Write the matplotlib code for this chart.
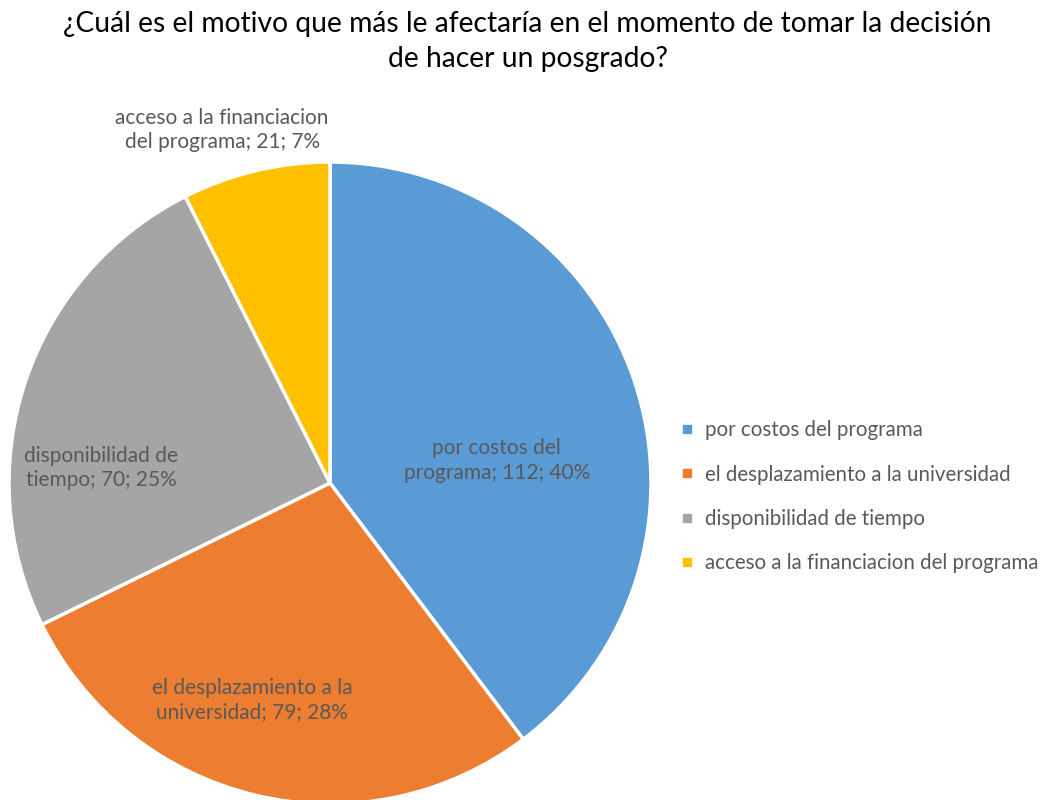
import matplotlib.pyplot as plt
from matplotlib.lines import Line2D

plt.rcParams['font.family'] = ['Lato', 'DejaVu Sans']

categories = ['por costos del programa', 'el desplazamiento a la universidad',
              'disponibilidad de tiempo', 'acceso a la financiacion del programa']
counts = [112, 79, 70, 21]
percents = [40, 28, 25, 7]
colors = ['#5B9BD5', '#ED7D31', '#A5A5A5', '#FFC000']

# label text broken the way the data labels wrap
label_lines = [('por costos del', 'programa'),
               ('el desplazamiento a la', 'universidad'),
               ('disponibilidad de', 'tiempo'),
               ('acceso a la financiacion', 'del programa')]
label_pos = [(0.52, 0.07), (-0.243, -0.676), (-0.713, 0.047), (-0.336, 1.10)]

fig = plt.figure(figsize=(10.55, 8), dpi=100)
W, H = 1055, 800
cx, cy, r = 330, 483, 321
ax = fig.add_axes([(cx - r) / W, (H - cy - r) / H, 2 * r / W, 2 * r / H])

wedges, _ = ax.pie(counts, colors=colors, startangle=90, counterclock=False,
                   radius=1, wedgeprops=dict(edgecolor='white', linewidth=2.5))
ax.set_xlim(-1, 1)
ax.set_ylim(-1, 1)
ax.set_aspect('equal')
ax.axis('off')

for lines, n, p, (x, y) in zip(label_lines, counts, percents, label_pos):
    txt = f'{lines[0]}\n{lines[1]}; {n}; {p}%'
    ax.text(x, y, txt, ha='center', va='center', fontsize=15,
            color='#595959', linespacing=1.3)

fig.text(0.5, 0.948, '¿Cuál es el motivo que más le afectaría en el momento de tomar la decisión\nde hacer un posgrado?',
         ha='center', va='center', fontsize=20.3, color='black', linespacing=1.42)

handles = [Line2D([0], [0], marker='s', linestyle='none', markersize=6,
                  markerfacecolor=c, markeredgecolor=c) for c in colors]
fig.legend(handles, categories, loc='center left', bbox_to_anchor=(0.629, 0.379),
           frameon=False, fontsize=14.8, labelcolor='#595959',
           handlelength=0.5, handletextpad=0.6, labelspacing=1.18)

fig.savefig('out.png', dpi=100)
